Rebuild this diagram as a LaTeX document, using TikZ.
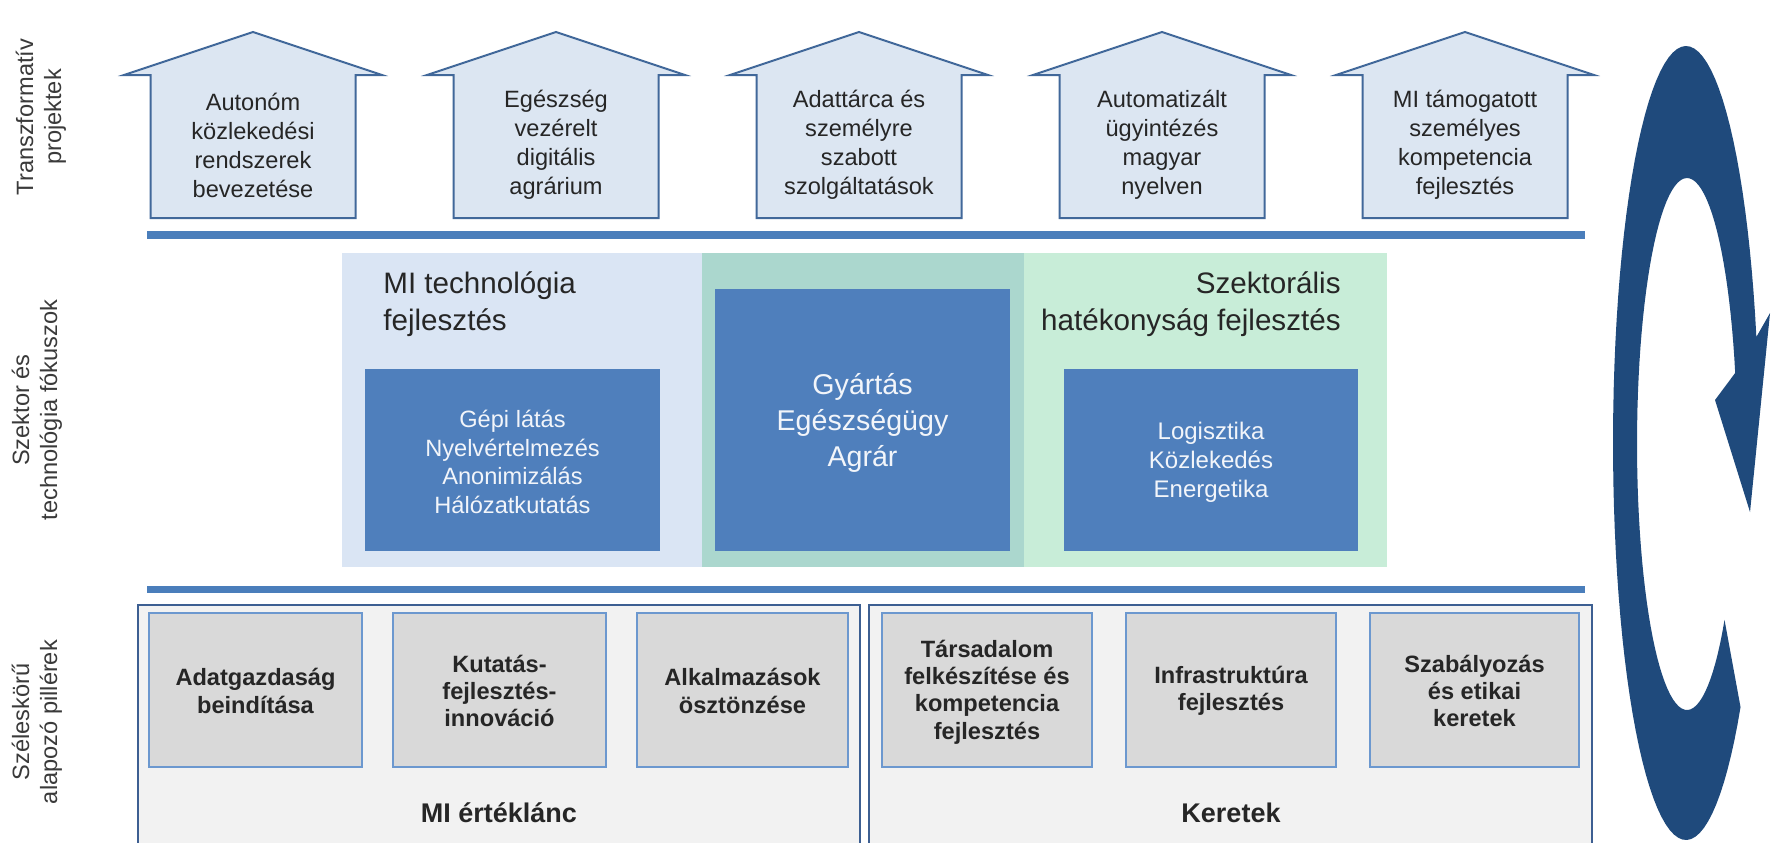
\documentclass[tikz,border=0pt]{standalone}
\usepackage{fontspec}
\setmainfont{Liberation Sans}
\definecolor{barblue}{HTML}{4A7EBB}
\definecolor{boxblue}{HTML}{4F7FBC}
\definecolor{housefill}{HTML}{DCE6F2}
\definecolor{houseline}{HTML}{41689A}
\definecolor{panelblue}{HTML}{DAE5F4}
\definecolor{panelteal}{HTML}{ABD7CE}
\definecolor{panelgreen}{HTML}{C8EDD8}
\definecolor{grayfill}{HTML}{D9D9D9}
\definecolor{grayline}{HTML}{6C98CF}
\definecolor{framefill}{HTML}{F2F2F2}
\definecolor{frameline}{HTML}{3D5F92}
\definecolor{navy}{HTML}{1F4A7C}
\definecolor{txt}{HTML}{262626}
\definecolor{lbl}{HTML}{3A3A3A}
\definecolor{whitetxt}{HTML}{F2F5FA}
\newcommand\mkhouse[3]{%
  \draw[housebox] ({#1-102.5},218) -- ({#1-102.5},75) -- ({#1-129},75) -- (#1,32)
    -- ({#1+129},75) -- ({#1+102.5},75) -- ({#1+102.5},218) -- cycle;
  \node[housetext] (#2) at (#1,145) {#3};
}
\begin{document}
\begin{tikzpicture}[x=0.5pt,y=-0.5pt,
  housebox/.style={draw=houseline, line width=1pt, fill=housefill, line join=miter},
  housetext/.style={font=\fontsize{11.8}{14.5}\selectfont, text=txt, align=center, inner sep=0pt},
  sidelabel/.style={font=\fontsize{11.8}{14}\selectfont, text=lbl, align=center, rotate=90, inner sep=0pt},
  hbar/.style={fill=barblue, draw=none},
  bluebox/.style={fill=boxblue, draw=none},
  boxtext/.style={text=whitetxt, align=center, font=\fontsize{11.8}{14.2}\selectfont, inner sep=0pt},
  pillar/.style={fill=grayfill, draw=grayline, line width=0.8pt},
  pillartext/.style={font=\bfseries\fontsize{11.8}{13.7}\selectfont, text=txt, align=center, inner sep=0pt},
  pframe/.style={fill=framefill, draw=frameline, line width=0.9pt},
  paneltitle/.style={font=\fontsize{14.8}{18.5}\selectfont, text=txt, inner sep=0pt},
]
\useasboundingbox (0,0) rectangle (1775,842);
\clip (0,0) rectangle (1775,842);
\fill[white] (0,0) rectangle (1775,842);

% side labels
\node[sidelabel] (l1) at (41,117) {Transzformatív\\projektek};
\node[sidelabel] (l2) at (37,410) {Szektor és\\technológia fókuszok};
\node[sidelabel] (l3) at (37,722) {Széleskörű\\alapozó pillérek};

% houses
\mkhouse{253}{h1}{Autonóm\\közlekedési\\rendszerek\\bevezetése}
\mkhouse{556}{h2}{Egészség\\vezérelt\\digitális\\agrárium}
\mkhouse{859}{h3}{Adattárca és\\személyre\\szabott\\szolgáltatások}
\mkhouse{1162}{h4}{Automatizált\\ügyintézés\\magyar\\nyelven}
\mkhouse{1465}{h5}{MI támogatott\\személyes\\kompetencia\\fejlesztés}

% bars
\fill[hbar] (147,231) rectangle (1585,239);
\fill[hbar] (147,586) rectangle (1585,593);

% middle panels
\fill[panelblue] (342,253) rectangle (702,567);
\fill[panelteal] (702,253) rectangle (1024,567);
\fill[panelgreen] (1024,253) rectangle (1387,567);
\node[paneltitle, align=left, anchor=north west] (t1) at (383,271) {MI technológia\\fejlesztés};
\node[paneltitle, align=right, anchor=north east] (t2) at (1341,271) {Szektorális\\hatékonyság fejlesztés};

\fill[bluebox] (365,369) rectangle (660,551);
\node[boxtext] (b1) at (512.5,462) {Gépi látás\\Nyelvértelmezés\\Anonimizálás\\Hálózatkutatás};
\fill[bluebox] (715,289) rectangle (1010,551);
\node[boxtext, font=\fontsize{14.3}{18}\selectfont] (b2) at (862.5,423) {Gyártás\\Egészségügy\\Agrár};
\fill[bluebox] (1064,369) rectangle (1358,551);
\node[boxtext, font=\fontsize{12}{14.5}\selectfont] (b3) at (1211,462) {Logisztika\\Közlekedés\\Energetika};

% bottom frames
\draw[pframe] (138,605) rectangle (860,860);
\draw[pframe] (869,605) rectangle (1592,860);
\node[pillartext, font=\bfseries\fontsize{13.5}{16}\selectfont] (f1) at (499,813) {MI értéklánc};
\node[pillartext, font=\bfseries\fontsize{13.5}{16}\selectfont] (f2) at (1231,813) {Keretek};

\draw[pillar] (149,613) rectangle (362,767);
\node[pillartext] (p1) at (255.5,691) {Adatgazdaság\\beindítása};
\draw[pillar] (393,613) rectangle (606,767);
\node[pillartext] (p2) at (499.5,691) {Kutatás-\\fejlesztés-\\innováció};
\draw[pillar] (637,613) rectangle (848,767);
\node[pillartext] (p3) at (742.5,691) {Alkalmazások\\ösztönzése};
\draw[pillar] (882,613) rectangle (1092,767);
\node[pillartext] (p4) at (987,692) {Társadalom\\felkészítése és\\kompetencia\\fejlesztés};
\draw[pillar] (1126,613) rectangle (1336,767);
\node[pillartext] (p5) at (1231,691) {Infrastruktúra\\fejlesztés};
\draw[pillar] (1370,613) rectangle (1579,767);
\node[pillartext] (p6) at (1474.5,691) {Szabályozás\\és etikai\\keretek};

% circular arrow
\fill[navy] plot[domain=41.7:344.5, samples=90, variable=\t] ({1686+73*cos(\t)}, {443+397*sin(\t)})
  -- (1770,313) -- (1750,512) -- (1715,400)
  -- plot[domain=344.5:41.4, samples=90, variable=\t] ({1687+50*cos(\t)}, {444+266*sin(\t)})
  -- cycle;
\end{tikzpicture}
\end{document}
